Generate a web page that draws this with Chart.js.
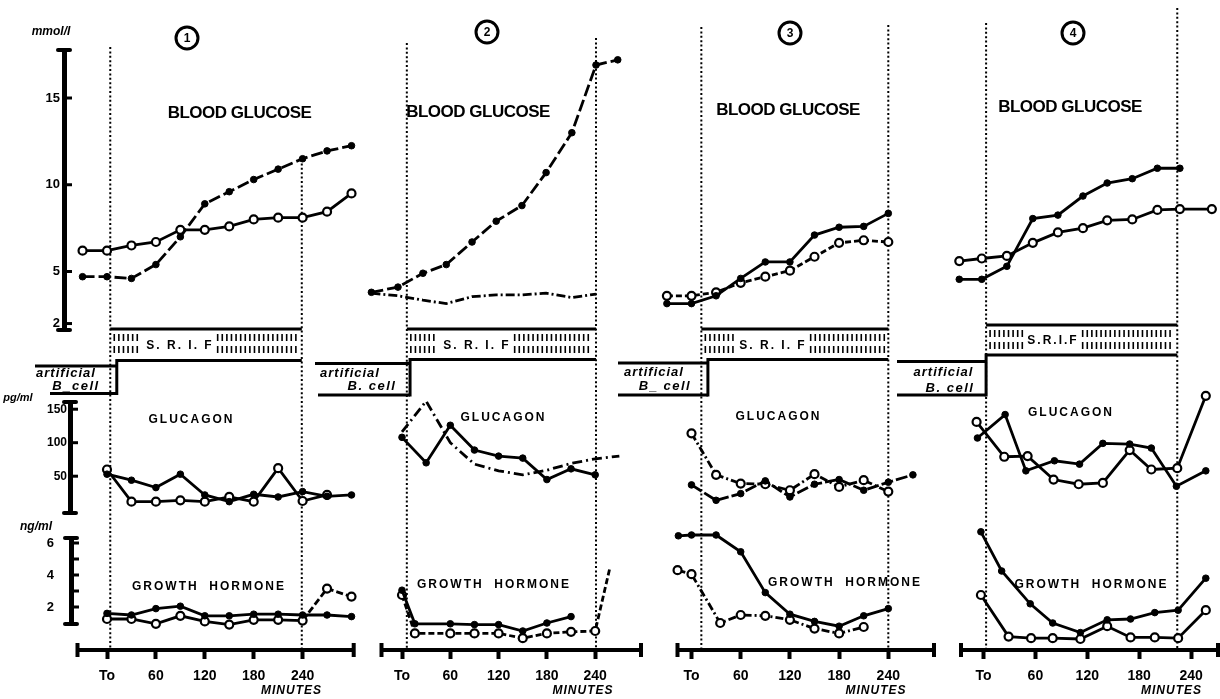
<!DOCTYPE html>
<html><head><meta charset="utf-8">
<script src="https://cdn.jsdelivr.net/npm/chart.js@4/dist/chart.umd.min.js"></script>
<style>
html,body{margin:0;padding:0;background:#fff;}
#wrap{position:relative;width:1220px;height:699px;overflow:hidden;background:#fff;}
#wrap canvas{position:absolute;left:0;top:0;}
</style></head><body><div id="wrap"></div>
<script>
// ================= DATA =================
const xTickValues = [0, 60, 120, 180, 240];
const xTickLabels = ['To', '60', '120', '180', '240'];
const glucoseTicks = [2, 5, 10, 15];
const glucagonTicks = [50, 100, 150];
const ghTicks = [2, 3, 4, 5, 6];
const ghTickLabels = {2: '2', 4: '4', 6: '6'};

// Panel 1
const p1GluTime   = [-30, 0, 30, 60, 90, 120, 150, 180, 210, 240, 270, 300];
const p1GluFilled = [4.7, 4.7, 4.6, 5.4, 7.0, 8.9, 9.6, 10.3, 10.9, 11.5, 11.95, 12.25];
const p1GluOpen   = [6.2, 6.2, 6.5, 6.7, 7.4, 7.4, 7.6, 8.0, 8.1, 8.1, 8.45, 9.5];
const p1HormTime  = [0, 30, 60, 90, 120, 150, 180, 210, 240, 270, 300];
const p1GcgFilled = [53, 44, 33, 53, 22, 12, 23, 19, 27, 20, 22];
const p1GcgOpen   = [60, 12, 12, 14, 12, 19, 12, 62, 13, 22];
const p1GhFilled  = [1.6, 1.5, 1.9, 2.05, 1.45, 1.45, 1.55, 1.55, 1.5, 1.5, 1.4];
const p1GhOpen    = [1.25, 1.25, 0.95, 1.45, 1.1, 0.9, 1.2, 1.2, 1.15, 3.15, 2.65];

// Panel 2
const p2GluTime   = [-38, -5, 26, 55, 87, 117, 149, 179, 211, 241, 268];
const p2GluFilled = [3.8, 4.1, 4.9, 5.4, 6.7, 7.9, 8.8, 10.7, 13.0, 16.9, 17.2];
const p2GluDash   = [3.75, 3.6, 3.35, 3.15, 3.55, 3.65, 3.65, 3.75, 3.5, 3.7];
const p2GcgTime   = [0, 30, 60, 90, 120, 150, 180, 210, 240, 270];
const p2GcgFilled = [108, 70, 126, 89, 80, 77, 45, 61, 52];
const p2GcgDash   = [116, 162, 100, 68, 58, 52, 59, 69, 76, 80];
const p2GhTime    = [0, 16, 60, 90, 120, 150, 180, 210, 240, 258];
const p2GhFilled  = [3.05, 0.95, 0.95, 0.9, 0.9, 0.5, 1.0, 1.4];
const p2GhOpen    = [2.75, 0.35, 0.35, 0.35, 0.35, 0.05, 0.35, 0.45, 0.5, 4.4];

// Panel 3
const p3GluTime   = [-30, 0, 30, 60, 90, 120, 150, 180, 210, 240];
const p3GluFilled = [3.15, 3.15, 3.6, 4.6, 5.55, 5.55, 7.1, 7.55, 7.6, 8.35];
const p3GluOpen   = [3.6, 3.6, 3.8, 4.35, 4.7, 5.05, 5.85, 6.65, 6.8, 6.7];
const p3GcgTime   = [0, 30, 60, 90, 120, 150, 180, 210, 240, 270];
const p3GcgFilled = [37, 14, 24, 43, 19, 38, 45, 29, 41, 52];
const p3GcgOpen   = [114, 52, 39, 38, 29, 53, 34, 44, 27];
const p3GhFilledTime = [-16, 0, 30, 60, 90, 120, 150, 180, 210, 240];
const p3GhFilled  = [6.45, 6.5, 6.5, 5.45, 2.9, 1.55, 1.1, 0.8, 1.45, 1.9];
const p3GhOpenTime = [-17, 0, 35, 60, 90, 120, 150, 180, 210];
const p3GhOpen    = [4.3, 4.05, 1.0, 1.5, 1.45, 1.2, 0.65, 0.35, 0.75];

// Panel 4
const p4GluTime   = [-28, -2, 27, 57, 86, 115, 143, 172, 201, 227, 264];
const p4GluFilled = [4.55, 4.55, 5.3, 8.05, 8.25, 9.35, 10.1, 10.35, 10.95, 10.95];
const p4GluOpen   = [5.6, 5.75, 5.9, 6.65, 7.25, 7.5, 7.95, 8.0, 8.55, 8.6, 8.6];
const p4GcgFilledTime = [-7, 25, 49, 82, 111, 138, 169, 194, 223, 257];
const p4GcgFilled = [107, 142, 58, 73, 68, 99, 98, 92, 35, 58];
const p4GcgOpenTime = [-8, 24, 51, 81, 110, 138, 169, 194, 224, 257];
const p4GcgOpen   = [131, 79, 80, 45, 38, 40, 89, 60, 62, 170];
const p4GhFilledTime = [-3, 21, 54, 80, 112, 143, 170, 198, 225, 257];
const p4GhFilled  = [6.7, 4.25, 2.2, 1.0, 0.4, 1.2, 1.25, 1.65, 1.8, 3.8];
const p4GhOpenTime = [-3, 29, 55, 80, 112, 143, 170, 198, 225, 257];
const p4GhOpen    = [2.75, 0.15, 0.05, 0.05, 0.0, 0.8, 0.1, 0.1, 0.05, 1.8];

// ================= LAYOUT / STYLE =================
const W = 1220, H = 699, XAXIS_Y = 650;
const FAM = '"Liberation Sans", Arial, sans-serif';
const BANDS = {
  glucose:  {top: 50,  bottom: 330, anchorV: 15,  anchorY: 98,    ppu: 17.35},
  glucagon: {top: 402, bottom: 513, anchorV: 100, anchorY: 442.7, ppu: 0.67},
  gh:       {top: 538, bottom: 624, anchorV: 4,   anchorY: 575,   ppu: 16}
};
const PANELS = [
  {x0: 107, k: 0.815, axL: 77.5, axR: 353.7, tLeft: 4, tRight: 239, tStep: 12,
   dotTopL: 47, dotTopR: 159, sTop: 329, sBot: 360.5, bTop: 366, bBot: 393.5, bLeft: 35, bLeft2: 50,
   num: '1', numX: 187, numY: 38, bgX: 239.5, bgY: 113, gcgX: 191.5, gcgY: 420, ghX: 209, ghY: 587,
   minX: 291.5, minY: 691, srif: 'S. R. I. F', srifX: 180, art: ['artificial', 'B_cell'], artX: [66, 76], artY: [373, 386]},
  {x0: 402, k: 0.805, axL: 381.5, axR: 641, tLeft: 6, tRight: 241, tStep: 10,
   dotTopL: 43, dotTopR: 38, sTop: 329, sBot: 359.5, bTop: 363.5, bBot: 395, bLeft: 315, bLeft2: 318,
   num: '2', numX: 487, numY: 32, bgX: 478, bgY: 112, gcgX: 503.5, gcgY: 418, ghX: 494, ghY: 585,
   minX: 583, minY: 691, srif: 'S. R. I. F', srifX: 477, art: ['artificial', 'B. cell'], artX: [350, 372], artY: [373, 386]},
  {x0: 691.5, k: 0.82, axL: 677.5, axR: 934, tLeft: 12, tRight: 240, tStep: 20,
   dotTopL: 27, dotTopR: 25, sTop: 329, sBot: 359.5, bTop: 363, bBot: 395, bLeft: 618, bLeft2: 618,
   num: '3', numX: 790, numY: 33, bgX: 788, bgY: 110, gcgX: 778.5, gcgY: 417, ghX: 845, ghY: 583,
   minX: 876, minY: 691, srif: 'S. R. I. F', srifX: 773, art: ['artificial', 'B_ cell'], artX: [654, 665], artY: [372, 386]},
  {x0: 983.5, k: 0.865, axL: 961, axR: 1218, tLeft: 3, tRight: 224, tStep: 3,
   dotTopL: 23, dotTopR: 8, sTop: 325, sBot: 355, bTop: 361.5, bBot: 395, bLeft: 897, bLeft2: 897,
   num: '4', numX: 1073, numY: 33, bgX: 1070, bgY: 107, gcgX: 1071, gcgY: 413, ghX: 1091.5, ghY: 585,
   minX: 1171.5, minY: 691, srif: 'S.R.I.F', srifX: 1053, art: ['artificial', 'B. cell'], artX: [943.5, 950], artY: [372, 388]}
];

const wrap = document.getElementById('wrap');
function newCanvas() {
  const c = document.createElement('canvas');
  c.width = W; c.height = H; c.style.width = W + 'px'; c.style.height = H + 'px';
  wrap.appendChild(c); return c;
}
function yRange(b, top, bottom) { return {max: b.anchorV + (b.anchorY - top) / b.ppu, min: b.anchorV - (bottom - b.anchorY) / b.ppu}; }
function xRange(p, l, r) { return {min: (l - p.x0) / p.k, max: (r - p.x0) / p.k}; }
function line(ctx, x1, y1, x2, y2) { ctx.beginPath(); ctx.moveTo(x1, y1); ctx.lineTo(x2, y2); ctx.stroke(); }
function text(ctx, s, x, y, font, spacing, align) {
  ctx.font = font; ctx.letterSpacing = (spacing || 0) + 'px';
  ctx.textAlign = align || 'center'; ctx.textBaseline = 'middle'; ctx.fillStyle = '#000';
  ctx.fillText(s, x, y);
  ctx.letterSpacing = '0px';
}

function series(time, values, kind, dash, extra) {
  const filled = kind === 'filled', none = kind === 'none';
  return Object.assign({
    data: values.map((v, i) => ({x: time[i], y: v})),
    borderColor: '#000', borderWidth: 2.8, borderDash: dash || [],
    pointRadius: none ? 0 : (filled ? 3.3 : 4),
    pointBackgroundColor: filled ? '#000' : '#fff',
    pointBorderColor: '#000', pointBorderWidth: filled ? 1 : 2.2,
    tension: 0, clip: false, fill: false, spanGaps: true
  }, extra || {});
}

const yAxisDecor = {
  id: 'yAxisDecor',
  afterDraw(chart) {
    const ys = chart.scales.y, ctx = chart.ctx, x = chart.chartArea.left;
    ctx.save(); ctx.strokeStyle = '#000';
    ctx.lineCap = 'round'; ctx.lineWidth = 4;
    line(ctx, x - 6, ys.top, x + 6, ys.top); line(ctx, x - 6, ys.bottom, x + 6, ys.bottom);
    ctx.lineCap = 'butt'; ctx.lineWidth = 3;
    ys.ticks.forEach(t => { const y = ys.getPixelForValue(t.value); line(ctx, x, y, x + 8, y); });
    ctx.restore();
  }
};

function dataChart(p, bandName, datasets, axis) {
  const b = BANDS[bandName];
  // charts without a visible axis get a roomier plot area so every point stays inside it
  const top = axis ? b.top : b.top - 45, bottom = axis ? b.bottom : b.bottom + 26;
  const left = axis ? axis.areaLeft : p.axL - 40, right = axis ? p.axR : Math.min(W, p.axR + 10);
  const xr = xRange(p, left, right), yr = yRange(b, top, bottom);
  const yW = axis ? left - 2 : 0;
  return new Chart(newCanvas(), {
    type: 'line',
    data: {datasets},
    options: {
      responsive: false, animation: false, devicePixelRatio: 1, events: [],
      layout: {autoPadding: false, padding: {left: left - yW, right: W - right, top: top, bottom: H - bottom}},
      plugins: {legend: {display: false}, tooltip: {enabled: false}, title: {display: false}},
      scales: {
        x: {type: 'linear', display: false, min: xr.min, max: xr.max},
        y: {
          type: 'linear', display: !!axis, position: 'left', min: yr.min, max: yr.max,
          afterBuildTicks: s => { if (axis) s.ticks = axis.ticks.map(v => ({value: v})); },
          afterFit: s => { if (axis) s.width = yW; },
          grid: {display: true, drawOnChartArea: false, drawTicks: false},
          border: {display: true, width: 5, color: '#000'},
          ticks: {
            padding: axis ? axis.pad : 0, color: '#000', autoSkip: false,
            font: {family: FAM, weight: 'bold', size: axis ? axis.size : 12},
            callback: v => axis && axis.labels ? (axis.labels[v] || '') : String(v)
          }
        }
      }
    },
    plugins: axis ? [yAxisDecor] : []
  });
}

function columnDecor(p, idx) {
  return {
    id: 'colDecor' + idx,
    afterDraw(chart) {
      const ctx = chart.ctx, xs = chart.scales.x, X = t => xs.getPixelForValue(t);
      const xl = X(p.tLeft), xr = X(p.tRight), xst = X(p.tStep);
      ctx.save(); ctx.strokeStyle = '#000'; ctx.fillStyle = '#000';
      // dotted infusion limits
      ctx.lineWidth = 2; ctx.setLineDash([2, 2.4]);
      line(ctx, xl, p.dotTopL, xl, XAXIS_Y); line(ctx, xr, p.dotTopR, xr, XAXIS_Y);
      ctx.setLineDash([]);
      // x axis end caps
      ctx.lineWidth = 4;
      line(ctx, xs.left, XAXIS_Y - 7, xs.left, XAXIS_Y + 7); line(ctx, xs.right, XAXIS_Y - 7, xs.right, XAXIS_Y + 7);
      // S.R.I.F band and artificial B-cell step
      ctx.lineWidth = 3;
      line(ctx, xl, p.sTop, xr, p.sTop);
      line(ctx, xst, p.sBot, xr, p.sBot);
      line(ctx, p.bLeft, p.bTop, xst, p.bTop);
      line(ctx, xst, p.sBot - 1.5, xst, p.bBot + 1.5);
      line(ctx, p.bLeft2, p.bBot, xst, p.bBot);
      const sf = 'bold 12px ' + FAM;
      ctx.font = sf; ctx.letterSpacing = '2px';
      const tw = ctx.measureText(p.srif).width; ctx.letterSpacing = '0px';
      text(ctx, p.srif, p.srifX, (p.sTop + p.sBot) / 2 + 1, sf, 2);
      ctx.lineWidth = 1.6;
      const r1 = [p.sTop + 5, p.sTop + 12], r2 = [p.sTop + 17, p.sTop + 24];
      [[xl + 4, p.srifX - tw / 2 - 5], [p.srifX + tw / 2 + 4, xr - 4]].forEach(([a, bb]) => {
        for (let x = a; x <= bb; x += 4.6) { line(ctx, x, r1[0], x, r1[1]); line(ctx, x, r2[0], x, r2[1]); }
      });
      text(ctx, p.art[0], p.artX[0], p.artY[0], 'italic bold 13px ' + FAM, 1);
      text(ctx, p.art[1], p.artX[1], p.artY[1], 'italic bold 13px ' + FAM, 1.5);
      // panel number
      ctx.lineWidth = 3; ctx.beginPath(); ctx.arc(p.numX, p.numY, 11, 0, Math.PI * 2); ctx.stroke();
      text(ctx, p.num, p.numX, p.numY + 1, 'bold 12px ' + FAM);
      // titles
      text(ctx, 'BLOOD GLUCOSE', p.bgX, p.bgY, 'bold 17px ' + FAM, -0.5);
      text(ctx, 'GLUCAGON', p.gcgX, p.gcgY, 'bold 12px ' + FAM, 2);
      text(ctx, 'GROWTH  HORMONE', p.ghX, p.ghY, 'bold 12px ' + FAM, 2);
      text(ctx, 'MINUTES', p.minX, p.minY, 'italic bold 12px ' + FAM, 1);
      if (idx === 0) {
        text(ctx, 'mmol/l', 51, 32, 'italic bold 12px ' + FAM);
        text(ctx, 'pg/ml', 18, 398, 'italic bold 11px ' + FAM);
        text(ctx, 'ng/ml', 36, 527, 'italic bold 12px ' + FAM);
      }
      ctx.restore();
    }
  };
}

function axisChart(p, idx) {
  const xr = xRange(p, p.axL, p.axR);
  return new Chart(newCanvas(), {
    type: 'line',
    data: {datasets: []},
    options: {
      responsive: false, animation: false, devicePixelRatio: 1, events: [],
      layout: {autoPadding: false, padding: {left: p.axL, right: W - p.axR, top: 0, bottom: 0}},
      plugins: {legend: {display: false}, tooltip: {enabled: false}},
      scales: {
        x: {
          type: 'linear', position: 'bottom', min: xr.min, max: xr.max,
          afterBuildTicks: s => { s.ticks = xTickValues.map(v => ({value: v})); },
          afterFit: s => { s.height = H - XAXIS_Y; },
          grid: {display: true, drawOnChartArea: false, drawTicks: true, tickLength: 9, tickWidth: 4, tickColor: '#000'},
          border: {display: true, width: 4, color: '#000'},
          ticks: {
            padding: 9, color: '#000', autoSkip: false, maxRotation: 0,
            font: {family: FAM, weight: 'bold', size: 14},
            callback: v => xTickLabels[xTickValues.indexOf(v)]
          }
        },
        y: {display: false, min: 0, max: 1}
      }
    },
    plugins: [columnDecor(p, idx)]
  });
}

// ================= BUILD =================
PANELS.forEach((p, i) => axisChart(p, i));
const [P1, P2, P3, P4] = PANELS;

// Panel 1
dataChart(P1, 'glucose', [
  series(p1GluTime, p1GluFilled, 'filled', [12, 4]),
  series(p1GluTime, p1GluOpen, 'open')
], {areaLeft: 64, ticks: glucoseTicks, pad: 4, size: 13});
dataChart(P1, 'glucagon', [
  series(p1HormTime, p1GcgFilled, 'filled'),
  series(p1HormTime, p1GcgOpen, 'open')
], {areaLeft: 70, ticks: glucagonTicks, pad: 3, size: 12});
dataChart(P1, 'gh', [
  series(p1HormTime, p1GhFilled, 'filled'),
  series(p1HormTime, p1GhOpen, 'open', [], {segment: {borderDash: c => c.p0DataIndex >= 8 ? [7, 3] : undefined}})
], {areaLeft: 71, ticks: ghTicks, labels: ghTickLabels, pad: 17, size: 13});

// Panel 2
dataChart(P2, 'glucose', [
  series(p2GluTime, p2GluFilled, 'filled', [12, 4]),
  series(p2GluTime, p2GluDash, 'none', [9, 3, 2, 3])
]);
dataChart(P2, 'glucagon', [
  series(p2GcgTime, p2GcgFilled, 'filled'),
  series(p2GcgTime, p2GcgDash, 'none', [10, 4, 2, 4])
]);
dataChart(P2, 'gh', [
  series(p2GhTime, p2GhFilled, 'filled'),
  series(p2GhTime, p2GhOpen, 'open', [6, 3], {pointRadius: p2GhOpen.map((v, i) => i === p2GhOpen.length - 1 ? 0 : 4)})
]);

// Panel 3
dataChart(P3, 'glucose', [
  series(p3GluTime, p3GluFilled, 'filled'),
  series(p3GluTime, p3GluOpen, 'open', [6, 3])
]);
dataChart(P3, 'glucagon', [
  series(p3GcgTime, p3GcgFilled, 'filled', [12, 3]),
  series(p3GcgTime, p3GcgOpen, 'open', [8, 3, 2, 3])
]);
dataChart(P3, 'gh', [
  series(p3GhFilledTime, p3GhFilled, 'filled'),
  series(p3GhOpenTime, p3GhOpen, 'open', [8, 3, 2, 3])
]);

// Panel 4
dataChart(P4, 'glucose', [
  series(p4GluTime, p4GluFilled, 'filled'),
  series(p4GluTime, p4GluOpen, 'open')
]);
dataChart(P4, 'glucagon', [
  series(p4GcgFilledTime, p4GcgFilled, 'filled'),
  series(p4GcgOpenTime, p4GcgOpen, 'open')
]);
dataChart(P4, 'gh', [
  series(p4GhFilledTime, p4GhFilled, 'filled'),
  series(p4GhOpenTime, p4GhOpen, 'open')
]);
</script></body></html>
